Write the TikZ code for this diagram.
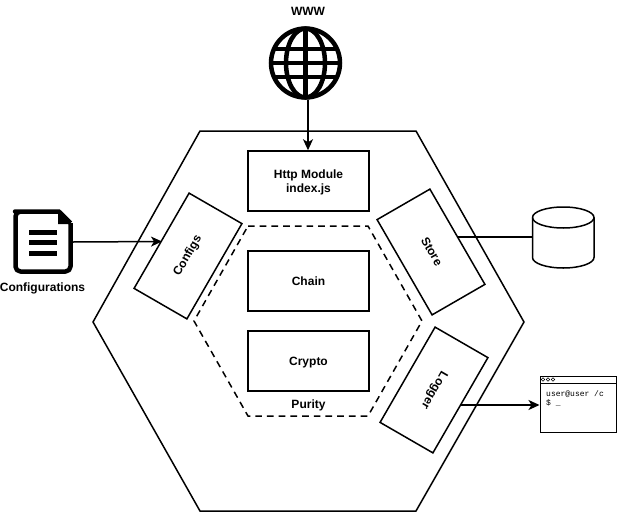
\documentclass[tikz,border=0pt]{standalone}
\usepackage{fontspec}
\setmainfont{Liberation Sans}
\setmonofont{Liberation Mono}
\usetikzlibrary{arrows.meta}
\tikzset{
  ln/.style={draw=black,line width=1.5pt},
  boxn/.style={ln,minimum width=121pt,minimum height=60pt,inner sep=0pt,align=center,text height=10.6pt,text depth=2.6pt,font=\fontsize{12}{14}\selectfont\bfseries},
  rbox/.style={ln,minimum width=110pt,minimum height=61pt,inner sep=0pt,text height=8.6pt,text depth=2.6pt,font=\fontsize{12}{14}\selectfont\bfseries},
  lab/.style={inner sep=0pt,font=\fontsize{12}{14}\selectfont\bfseries},
  anchorpt/.style={inner sep=0pt,minimum size=0pt},
  conn/.style={draw=black,line width=1.5pt},
  arr/.style={conn,-{Stealth[length=11pt,width=10pt,inset=3pt]}},
}
\begin{document}
\begin{tikzpicture}[x=1pt,y=-1pt]
\useasboundingbox (0,0) rectangle (625,512);
\fill[white] (0,0) rectangle (625,512);
% hexagons
\draw[ln] (200,131) -- (416,131) -- (524,322) -- (416,511) -- (200,511) -- (93,322) -- cycle;
\draw[ln,dash pattern=on 6.7pt off 5pt] (248,226) -- (368,226) -- (422,321) -- (368,416) -- (248,416) -- (194,321) -- cycle;
% boxes
\node[boxn,text height=25.6pt] (http) at (308.5,181) {Http Module\\index.js};
\node[boxn] (chain) at (308.5,281) {Chain};
\node[boxn] (crypto) at (308.5,361) {Crypto};
\node[lab] (purity) at (308.5,405) {Purity};
\node[rbox,rotate=60] (configs) at (188,256) {Configs};
\node[rbox,rotate=-60] (store) at (431,252) {Store};
\node[rbox,rotate=240] (logger) at (434,390) {Logger};
% globe
\node[lab] (www) at (308,11) {WWW};
\node[anchorpt,minimum size=74pt,circle] (globe) at (305.5,63) {};
\begin{scope}[line width=4.5pt,draw=black]
\draw (305.5,63) circle (34.5);
\draw (305.5,28) -- (305.5,98);
\draw (305.5,63) ellipse (19.5 and 34.5);
\draw (271,63) -- (340,63);
\draw (273.5,49) -- (337.5,49);
\draw (273.5,77) -- (337.5,77);
\end{scope}
% document
\node[anchorpt,minimum width=60pt,minimum height=65pt] (doc) at (43,241.5) {};
\draw[line width=4.5pt,line join=round,rounded corners=5pt] (60,211.5) -- (20,211.5) -- (15.5,211.5) -- (15.5,271.5) -- (70.5,271.5) -- (70.5,223);
\draw[line width=4.5pt,line join=round] (59,211.5) -- (70.5,223);
\fill (58,210) -- (72,224) -- (58,224) -- cycle;
\fill (28.5,230) rectangle (57,235);
\fill (28.5,240) rectangle (57,245);
\fill (28.5,251) rectangle (57,256);
\node[lab] (cfg) at (42.5,288) {Configurations};
% cylinder
\node[anchorpt,minimum width=61.5pt,minimum height=61pt] (cyl) at (563.25,237.5) {};
\draw[ln,fill=white] (532.5,217.5) arc[start angle=180,end angle=360,x radius=30.75,y radius=10.5] -- (594,257.5) arc[start angle=0,end angle=180,x radius=30.75,y radius=10.5] -- cycle;
\draw[ln] (532.5,217.5) arc[start angle=180,end angle=0,x radius=30.75,y radius=10.5];
% terminal
\node[anchorpt,draw=black,line width=1pt,minimum width=76pt,minimum height=56pt] (term) at (578,404) {};
\draw[line width=1pt] (540,383) -- (616,383);
\foreach \cx in {543,548,553} \draw[line width=.5pt] (\cx,379.5) circle (1.7);
\node[inner sep=0pt,anchor=west,font=\ttfamily\fontsize{8}{10}\selectfont] (t1) at (546,394) {user@user /c};
\node[inner sep=0pt,anchor=west,font=\ttfamily\fontsize{8}{10}\selectfont] (t2) at (546,403) {\$ \_};
% connectors
\coordinate (storeport) at (457,237);
\coordinate (loggerport) at (460,405);
\coordinate (configsport) at (162,241.5);
\coordinate (docport) at (73,242);
\draw[arr] (globe.south -| 308,0) -- (http.north -| 308,0);
\draw[arr] (docport) -- (configsport);
\draw[conn] (storeport) -- (cyl.west |- storeport);
\draw[arr] (loggerport) -- (term.west |- loggerport);
\end{tikzpicture}
\end{document}
